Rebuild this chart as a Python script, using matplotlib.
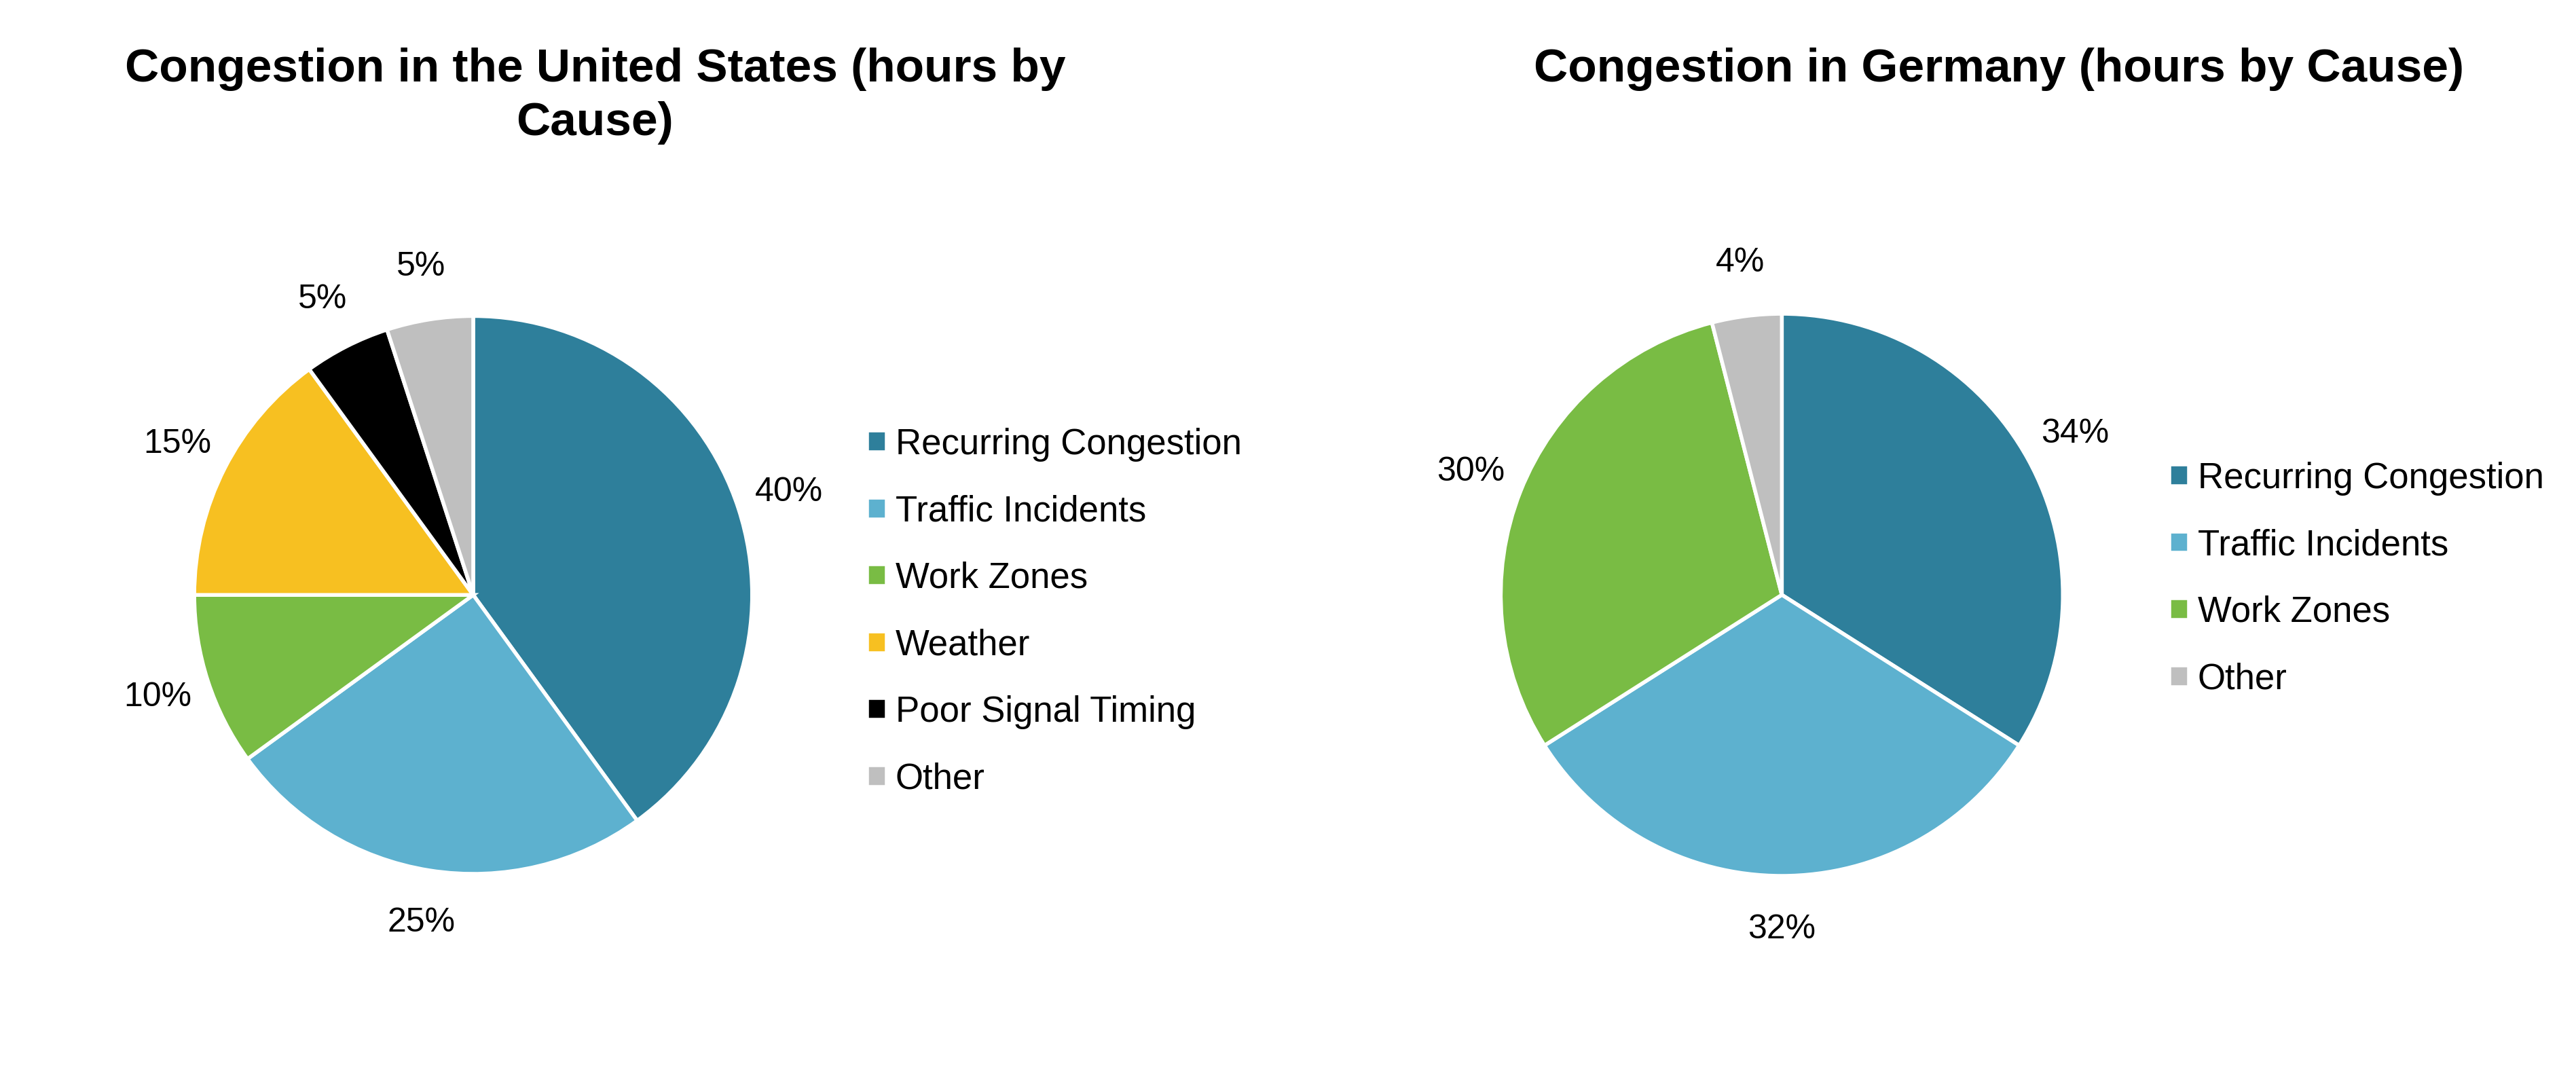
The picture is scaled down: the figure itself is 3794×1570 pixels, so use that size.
import matplotlib
matplotlib.use('Agg')
import matplotlib.pyplot as plt

plt.rcParams['font.family'] = ['Liberation Sans', 'DejaVu Sans']

# data
us_causes = ['Recurring Congestion', 'Traffic Incidents', 'Work Zones',
             'Weather', 'Poor Signal Timing', 'Other']
us_share = [40, 25, 10, 15, 5, 5]
de_causes = ['Recurring Congestion', 'Traffic Incidents', 'Work Zones', 'Other']
de_share = [34, 32, 30, 4]

colors = {'Recurring Congestion': '#2E7F9B',
          'Traffic Incidents': '#5DB1CF',
          'Work Zones': '#79BC44',
          'Weather': '#F7C021',
          'Poor Signal Timing': '#000000',
          'Other': '#BFBFBF'}

fig = plt.figure(figsize=(37.94, 15.70), dpi=100)

def draw_pie(rect, causes, share, title, title_xy, leg_xy):
    ax = fig.add_axes(rect)
    wedges, texts, autotexts = ax.pie(
        share, colors=[colors[c] for c in causes], startangle=90,
        counterclock=False, autopct='%d%%', pctdistance=1.19,
        wedgeprops=dict(edgecolor='white', linewidth=4),
        textprops=dict(fontsize=36, color='black'))
    ax.set_xlim(-1.5, 1.5)
    ax.set_ylim(-1.5, 1.5)
    ax.set_aspect('equal')
    ax.axis('off')
    fig.text(title_xy[0], title_xy[1], title, ha='center', va='center',
             fontsize=50, fontweight='bold', linespacing=1.3)
    fig.legend(wedges, causes, loc='center left', bbox_to_anchor=leg_xy,
               frameon=False, fontsize=38, handlelength=0.55,
               handleheight=0.55, handletextpad=0.25, labelspacing=0.92)
    return ax

draw_pie([0.0212, 0.0494, 0.325, 0.785], us_causes, us_share,
         'Congestion in the United States (hours by\nCause)',
         (0.231, 0.91), (0.324, 0.426))
draw_pie([0.528, 0.0465, 0.3274, 0.791], de_causes, de_share,
         'Congestion in Germany (hours by Cause)',
         (0.776, 0.935), (0.8295, 0.457))

fig.savefig('out.png', dpi=100)
